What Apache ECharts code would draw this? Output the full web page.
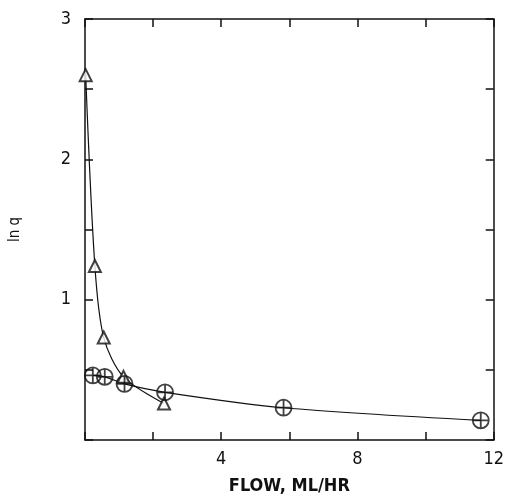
<!DOCTYPE html>
<html>
<head>
<meta charset="utf-8">
<script src="https://cdn.jsdelivr.net/npm/echarts@6/dist/echarts.min.js"></script>
<style>
  html, body { margin: 0; padding: 0; background: #fff; }
  #chart { width: 507px; height: 500px; }
</style>
</head>
<body>
<div id="chart"></div>
<script>
// triangle points (flow, ln q)
var triFlow = [0.02, 0.29, 0.55, 1.13, 2.32];
var triLnq = [2.60, 1.24, 0.73, 0.45, 0.26];
// circle points
var cirFlow = [0.23, 0.58, 1.16, 2.35, 5.83, 11.62];
var cirLnq = [0.46, 0.45, 0.40, 0.34, 0.23, 0.14];

var xTicks = [4, 8, 12];
var yTicks = [1, 2, 3];

function pairs(xs, ys) {
  return xs.map(function (x, i) { return [x, ys[i]]; });
}

var font = '"DejaVu Sans Condensed", "Liberation Sans Narrow", sans-serif';
var ink = '#111';
var crossCircle = 'path://M0,-10 A10,10 0 1,1 0,10 A10,10 0 1,1 0,-10 Z M0,-10 L0,10 M-10,0 L10,0';

var chart = echarts.init(document.getElementById('chart'));

var axLine = { show: true, onZero: false, lineStyle: { color: ink, width: 1.5 } };
var axTick = { show: true, inside: true, length: 8, lineStyle: { color: ink, width: 1.5 } };

chart.setOption({
  animation: false,
  grid: { left: 80, right: 13, top: 19, bottom: 59 },
  xAxis: [
    {
      type: 'value', min: 0, max: 12, interval: 2,
      name: 'FLOW, ML/HR', nameLocation: 'middle', nameGap: 37,
      nameTextStyle: { color: ink, fontSize: 18, fontFamily: font, fontWeight: 'bold' },
      axisLine: axLine, axisTick: axTick, splitLine: { show: false },
      axisLabel: {
        color: ink, fontSize: 18, fontFamily: font, margin: 10,
        formatter: function (v) { return xTicks.indexOf(v) >= 0 ? String(v) : ''; }
      }
    },
    {
      type: 'value', min: 0, max: 12, interval: 2, position: 'top',
      axisLine: axLine, axisTick: axTick, splitLine: { show: false },
      axisLabel: { show: false }
    }
  ],
  yAxis: [
    {
      type: 'value', min: 0, max: 3, interval: 0.5,
      name: 'ln q', nameLocation: 'middle', nameGap: 62, nameRotate: 90,
      nameTextStyle: { color: ink, fontSize: 15, fontFamily: font },
      axisLine: axLine, axisTick: axTick, splitLine: { show: false },
      axisLabel: {
        color: ink, fontSize: 18, fontFamily: font, margin: 14,
        formatter: function (v) { return yTicks.indexOf(v) >= 0 ? String(v) : ''; }
      }
    },
    {
      type: 'value', min: 0, max: 3, interval: 0.5, position: 'right',
      axisLine: axLine, axisTick: axTick, splitLine: { show: false },
      axisLabel: { show: false }
    }
  ],
  series: [
    {
      type: 'line', data: pairs(triFlow, triLnq), smooth: 0.3,
      showSymbol: false, lineStyle: { color: ink, width: 1.2 }, z: 1
    },
    {
      type: 'line', data: pairs(cirFlow, cirLnq), smooth: 0.3,
      showSymbol: false, lineStyle: { color: ink, width: 1.2 }, z: 1
    },
    {
      type: 'scatter', data: pairs(triFlow, triLnq), symbol: 'triangle', symbolSize: 12,
      itemStyle: { color: '#fff', borderColor: ink, borderWidth: 2 }, z: 3
    },
    {
      type: 'scatter', data: pairs(cirFlow, cirLnq), symbol: crossCircle, symbolSize: 16,
      itemStyle: { color: 'rgba(255,255,255,0)', borderColor: ink, borderWidth: 1.8 }, z: 4
    }
  ]
});
</script>
</body>
</html>
